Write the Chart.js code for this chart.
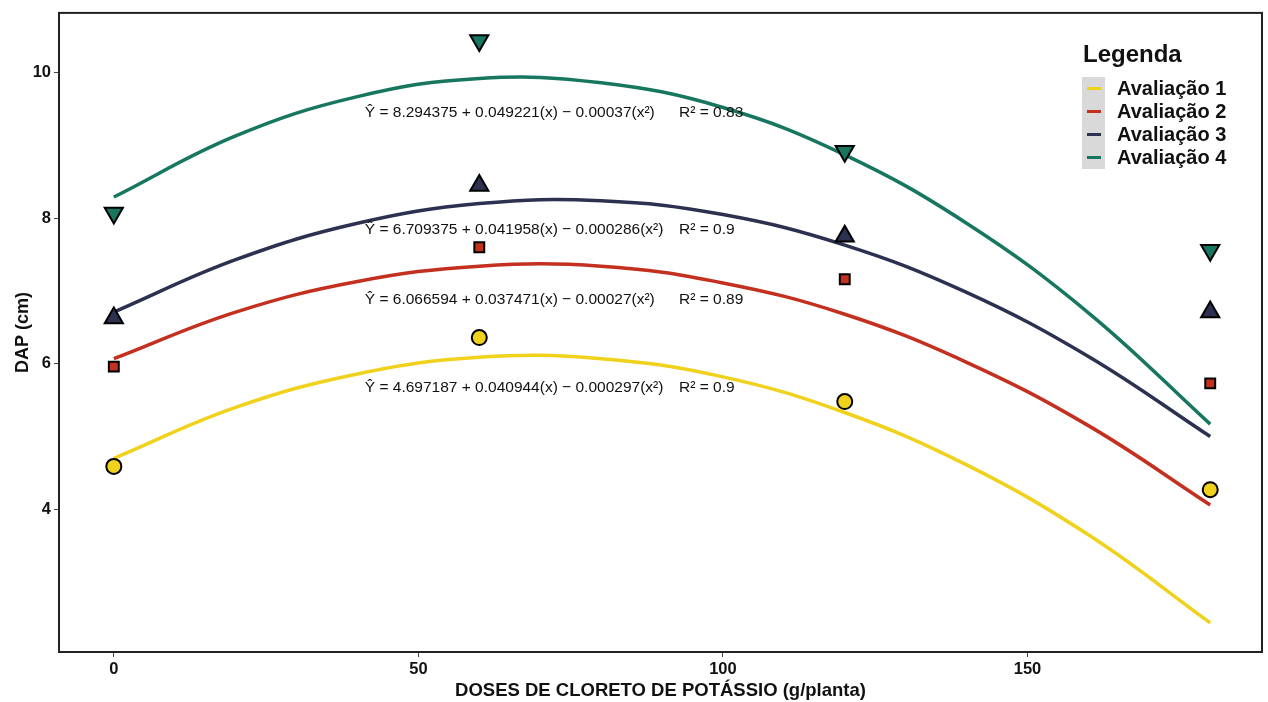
<!DOCTYPE html>
<html>
<head>
<meta charset="utf-8">
<script src="https://cdn.jsdelivr.net/npm/chart.js@4"></script>
<style>
  html, body { margin: 0; padding: 0; background: #fff; }
  #wrap { position: relative; width: 1268px; height: 702px; font-family: "Liberation Sans", Arial, sans-serif; }
  #legend { position: absolute; left: 1082px; top: 40px; color: #111; }
  #legend .title { position: absolute; left: 1px; top: 0; font-size: 24px; font-weight: bold; white-space: nowrap; }
  #legend .rows { position: absolute; left: 0; top: 37px; }
  #legend .row { position: relative; height: 23px; line-height: 23px; font-size: 20px; font-weight: bold; white-space: nowrap; }
  #legend .key { position: absolute; left: 0; top: 0; width: 23px; height: 23px; background: #d9d9d9; }
  #legend .key span { position: absolute; left: 5px; top: 10px; width: 14px; height: 3px; }
  #legend .lbl { padding-left: 35px; }
</style>
</head>
<body>
<div id="wrap">
  <canvas id="chart" width="1268" height="702"></canvas>
  <div id="legend"></div>
</div>
<script>
// doses (g/planta)
const doses = [0, 60, 120, 180];
// observed DAP means (cm)
const aval1 = [4.59, 6.36, 5.48, 4.27];
const aval2 = [5.96, 7.60, 7.16, 5.73];
const aval3 = [6.63, 8.45, 7.75, 6.71];
const aval4 = [8.07, 10.44, 8.92, 7.56];

// fitted curves
const curveX = [0, 20, 40, 60, 80, 100, 120, 140, 160, 180];
const fit1 = [4.70, 5.40, 5.86, 6.09, 6.07, 5.82, 5.33, 4.61, 3.65, 2.44];
const fit2 = [6.07, 6.71, 7.13, 7.34, 7.34, 7.11, 6.68, 6.02, 5.15, 4.06];
const fit3 = [6.71, 7.43, 7.93, 8.20, 8.24, 8.05, 7.63, 6.98, 6.10, 5.00];
const fit4 = [8.29, 9.13, 9.67, 9.92, 9.86, 9.52, 8.87, 7.93, 6.70, 5.17];

const labels = ['Avaliação 1', 'Avaliação 2', 'Avaliação 3', 'Avaliação 4'];
const colors = ['#f0d11c', '#c4301f', '#2c3150', '#17765f'];
const equations = [
  'Ŷ = 4.697187 + 0.040944(x) − 0.000297(x²)',
  'Ŷ = 6.066594 + 0.037471(x) − 0.00027(x²)',
  'Ŷ = 6.709375 + 0.041958(x) − 0.000286(x²)',
  'Ŷ = 8.294375 + 0.049221(x) − 0.00037(x²)'
];
const r2 = ['R² = 0.9', 'R² = 0.89', 'R² = 0.9', 'R² = 0.83'];

const xTicks = [0, 50, 100, 150];
const yTicks = [4, 6, 8, 10];

const font = '"Liberation Sans", Arial, sans-serif';

const toPts = (xs, ys) => xs.map((x, i) => ({ x: x, y: ys[i] }));
const obs = [aval1, aval2, aval3, aval4];
const fits = [fit1, fit2, fit3, fit4];
const shapes = ['circle', 'rect', 'triangle', 'triangle'];
const rot = [0, 0, 0, 180];
const radius = [7.5, 7, 10.5, 10.5];

const datasets = [];
// markers first so they sit on top of the curves
obs.forEach((ys, i) => {
  datasets.push({
    label: labels[i] + ' obs',
    data: toPts(doses, ys),
    showLine: false,
    pointStyle: shapes[i],
    rotation: rot[i],
    pointRadius: radius[i],
    pointBackgroundColor: colors[i],
    pointBorderColor: '#000',
    pointBorderWidth: 2
  });
});
fits.forEach((ys, i) => {
  datasets.push({
    label: labels[i],
    data: toPts(curveX, ys),
    showLine: true,
    borderColor: colors[i],
    borderWidth: 3.5,
    tension: 0.4,
    pointRadius: 0
  });
});

// equations placed in data coordinates
const eqPos = [
  { x: 41.2, y: 5.67 },
  { x: 41.2, y: 6.88 },
  { x: 41.2, y: 7.84 },
  { x: 41.2, y: 9.45 }
];

const annotations = {
  id: 'annotations',
  afterDatasetsDraw(chart) {
    const ctx = chart.ctx;
    const xs = chart.scales.x, ys = chart.scales.y;
    ctx.save();
    ctx.fillStyle = '#111';
    ctx.font = '15.5px ' + font;
    ctx.textBaseline = 'middle';
    ctx.textAlign = 'left';
    eqPos.forEach((p, i) => {
      const py = ys.getPixelForValue(p.y);
      ctx.fillText(equations[i], xs.getPixelForValue(p.x), py);
      ctx.fillText(r2[i], xs.getPixelForValue(92.8), py);
    });
    // panel border
    const a = chart.chartArea;
    ctx.strokeStyle = '#222';
    ctx.lineWidth = 2;
    ctx.strokeRect(a.left, a.top, a.right - a.left, a.bottom - a.top);
    ctx.restore();
  }
};

new Chart(document.getElementById('chart'), {
  type: 'scatter',
  data: { datasets: datasets },
  options: {
    responsive: false,
    animation: false,
    layout: { autoPadding: false, padding: { left: 0, top: 11, right: 6, bottom: 0 } },
    plugins: {
      legend: { display: false },
      tooltip: { enabled: false }
    },
    scales: {
      x: {
        type: 'linear',
        min: -9,
        max: 188.5,
        afterBuildTicks: s => { s.ticks = xTicks.map(v => ({ value: v })); },
        afterFit: s => { s.height = 50; },
        grid: { drawOnChartArea: false, drawTicks: true, tickLength: 5, color: '#444' },
        border: { display: true, color: '#222', width: 2 },
        ticks: { color: '#111', padding: 3, font: { family: font, size: 16.5, weight: 'bold' } },
        title: {
          display: true,
          text: 'DOSES DE CLORETO DE POTÁSSIO (g/planta)',
          color: '#111',
          padding: { top: 0, bottom: 0 },
          font: { family: font, size: 18.5, weight: 'bold' }
        }
      },
      y: {
        type: 'linear',
        min: 2.04,
        max: 10.82,
        afterBuildTicks: s => { s.ticks = yTicks.map(v => ({ value: v })); },
        afterFit: s => { s.width = 59; },
        grid: { drawOnChartArea: false, drawTicks: true, tickLength: 5, color: '#444' },
        border: { display: true, color: '#222', width: 2 },
        ticks: { color: '#111', padding: 3, font: { family: font, size: 16.5, weight: 'bold' } },
        title: {
          display: true,
          text: 'DAP (cm)',
          color: '#111',
          padding: { top: 12, bottom: 4 },
          font: { family: font, size: 18, weight: 'bold' }
        }
      }
    }
  },
  plugins: [annotations]
});

// legend
const leg = document.getElementById('legend');
let html = '<div class="title">Legenda</div><div class="rows">';
labels.forEach((l, i) => {
  html += '<div class="row"><div class="key"><span style="background:' + colors[i] + '"></span></div><div class="lbl">' + l + '</div></div>';
});
html += '</div>';
leg.innerHTML = html;
</script>
</body>
</html>
